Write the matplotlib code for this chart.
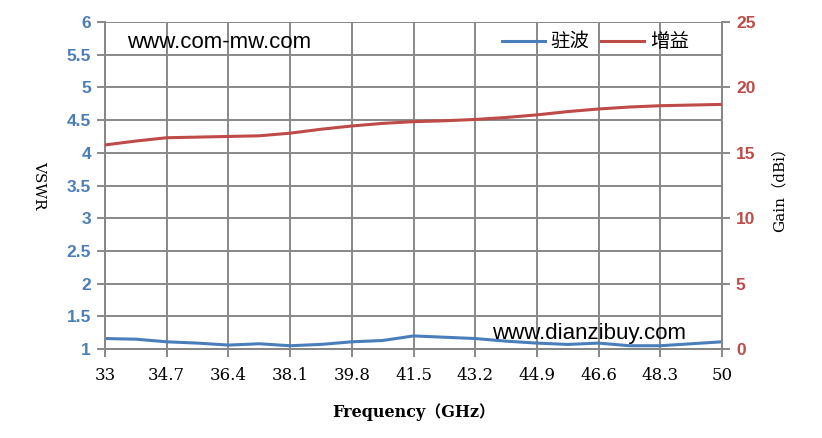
import matplotlib
matplotlib.use("Agg")
import matplotlib.pyplot as plt

# 频率点（GHz）及读图得到的数值
freq = [33, 33.85, 34.7, 35.55, 36.4, 37.25, 38.1, 38.95, 39.8, 40.65, 41.5,
        42.35, 43.2, 44.05, 44.9, 45.75, 46.6, 47.45, 48.3, 49.15, 50]
vswr = [1.16, 1.15, 1.11, 1.09, 1.06, 1.08, 1.05, 1.07, 1.11, 1.13, 1.20,
        1.18, 1.16, 1.12, 1.09, 1.07, 1.09, 1.05, 1.05, 1.08, 1.11]
gain = [15.6, 15.9, 16.15, 16.2, 16.25, 16.3, 16.5, 16.8, 17.05, 17.25, 17.38,
        17.45, 17.55, 17.7, 17.9, 18.15, 18.35, 18.5, 18.6, 18.65, 18.7]

x_ticks = [33, 34.7, 36.4, 38.1, 39.8, 41.5, 43.2, 44.9, 46.6, 48.3, 50]
vswr_ticks = [1, 1.5, 2, 2.5, 3, 3.5, 4, 4.5, 5, 5.5, 6]
gain_ticks = [0, 5, 10, 15, 20, 25]

BLUE = "#4a7ebb"
RED = "#be4b48"
GRID = "#888888"
CJK = ["Noto Sans CJK SC", "DejaVu Sans"]
SERIF = ["DejaVu Serif", "Noto Sans CJK SC"]

fig = plt.figure(figsize=(8.22, 4.38), dpi=100)
ax = fig.add_axes([105 / 822, 1 - 349 / 438, 617 / 822, 327 / 438])
ax2 = ax.twinx()

l1, = ax.plot(freq, vswr, color=BLUE, linewidth=2.2, label="驻波", zorder=3)
l2, = ax2.plot(freq, gain, color=RED, linewidth=2.2, label="增益", zorder=3)

ax.set_xlim(33, 50)
ax.set_ylim(1, 6)
ax2.set_ylim(0, 25)
ax.set_xticks(x_ticks)
ax.set_xticklabels([f"{t:g}" for t in x_ticks], family=SERIF, fontsize=12)
ax.set_yticks(vswr_ticks)
ax.set_yticklabels([f"{t:g}" for t in vswr_ticks], fontsize=12.5,
                   fontweight="bold", color=BLUE, family="Liberation Sans")
ax2.set_yticks(gain_ticks)
ax2.set_yticklabels([str(t) for t in gain_ticks], fontsize=12.5,
                    fontweight="bold", color=RED, family="Liberation Sans")

ax.grid(True, color=GRID, linewidth=1.4)
ax.set_axisbelow(True)
for a in (ax, ax2):
    for s in a.spines.values():
        s.set_color(GRID)
        s.set_linewidth(1.4)
    a.spines["top"].set_visible(False)
ax.tick_params(axis="x", direction="out", length=6, width=1.4, color=GRID, pad=7)
ax.tick_params(axis="y", direction="out", length=6, width=1.4, color=GRID, pad=4)
ax2.tick_params(axis="y", direction="out", length=6, width=1.4, color=GRID, pad=4)

ax.set_xlabel("Frequency（GHz）", family=SERIF, fontsize=11.5,
              fontweight="bold", labelpad=14)
ax.set_ylabel("VSWR", family=SERIF, fontsize=11, rotation=-90,
              labelpad=20, va="center")
ax2.set_ylabel("Gain（dBi）", family=SERIF, fontsize=11, rotation=90,
               labelpad=12)

ax2.legend(handles=[l1, l2], prop={"family": CJK, "size": 14}, ncol=2,
           frameon=False, loc="upper right", bbox_to_anchor=(0.975, 1.025),
           handlelength=2.2, handletextpad=0.3, columnspacing=0.6)

ax.text(127, 438 - 42, "www.com-mw.com", transform=None, fontsize=16,
        family="Liberation Sans", va="center", ha="left", zorder=5)
ax.text(492, 438 - 333, "www.dianzibuy.com", transform=None, fontsize=16,
        family="Liberation Sans", va="center", ha="left", zorder=5)

fig.savefig("out.png", dpi=100)
